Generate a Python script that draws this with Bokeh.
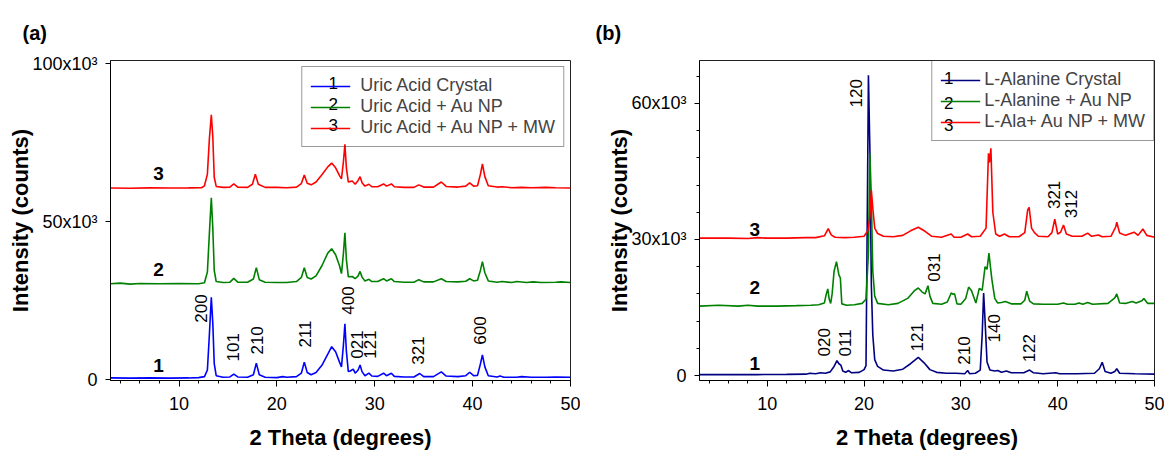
import numpy as np
from bokeh.plotting import figure
from bokeh.layouts import row
from bokeh.models import (Range1d, FixedTicker, SingleIntervalTicker, Legend,
                          LegendItem, ColumnDataSource)
from bokeh.embed import file_html
from bokeh.resources import INLINE
from bokeh.core.properties import value

FONT = "Liberation Sans"

# ---------------- Panel (a): Uric acid ----------------
a1_x = [3.0, 5.0, 7.0, 9.0, 11.0, 12.0, 12.6, 12.9, 13.1, 13.3, 13.45, 13.6, 13.8, 14.5, 15.2, 15.6, 16.0,
        17.0, 17.6, 17.9, 18.2, 18.8, 20.0, 20.6, 21.0, 22.0, 22.5, 22.8, 23.1, 23.5, 24.0, 24.6, 25.2,
        25.6, 26.0, 26.4, 26.6, 26.8, 26.95, 27.1, 27.3, 27.5, 27.8, 28.0, 28.3, 28.5, 28.7, 29.0, 29.4,
        29.7, 30.3, 30.9, 31.2, 31.7, 32.0, 33.0, 34.0, 34.6, 35.0, 36.0, 36.8, 37.3, 38.5, 39.3, 39.7,
        40.1, 40.5, 40.8, 41.0, 41.25, 41.6, 42.5, 42.8, 43.2, 44.5, 45.0, 46.0, 47.5, 48.5, 50.0]
a1_y = [500, 450, 500, 450, 500, 600, 900, 3000, 14000, 26000, 18000, 5000, 1200, 700, 800, 1700, 800,
        700, 1500, 5200, 1500, 700, 600, 900, 700, 900, 2000, 5500, 2200, 1500, 2200, 4500, 8000,
        10400, 8800, 5500, 4000, 11000, 17600, 9000, 2500, 2700, 3300, 2000, 3000, 4600, 2500, 1200, 2000,
        1100, 1000, 2000, 1200, 2000, 1000, 800, 800, 1900, 900, 900, 2400, 1100, 900, 1200, 2300,
        1200, 1300, 5000, 7800, 4000, 1200, 800, 1100, 700, 700, 900, 700, 700, 800, 700]

a2_x = [3.0, 4.0, 5.0, 6.0, 8.0, 10.0, 12.0, 12.6, 12.9, 13.1, 13.3, 13.45, 13.6, 13.8, 14.5, 15.2, 15.6,
        16.0, 17.0, 17.6, 17.9, 18.2, 18.8, 20.0, 21.0, 22.0, 22.5, 22.8, 23.1, 23.5, 24.0, 24.6, 25.2,
        25.6, 26.0, 26.4, 26.6, 26.8, 26.95, 27.1, 27.3, 27.7, 28.0, 28.3, 28.5, 28.7, 29.0, 29.4, 29.7,
        30.3, 30.9, 31.2, 31.7, 32.0, 33.0, 34.0, 34.5, 35.0, 36.0, 36.8, 37.3, 38.5, 39.3, 39.7, 40.1,
        40.5, 40.8, 41.0, 41.25, 41.6, 42.5, 43.0, 44.0, 44.5, 45.5, 46.2, 47.0, 48.5, 49.0, 50.0]
a2_y = [300, 500, 200, 400, 300, 400, 300, 600, 4000, 16000, 27500, 18000, 4500, 1000, 700, 800, 2000,
        800, 800, 1800, 5400, 1600, 800, 700, 700, 1000, 2300, 5400, 2300, 1800, 2800, 6000, 10000,
        11400, 9500, 6000, 3500, 10000, 16400, 8000, 2500, 2600, 1900, 2800, 4200, 2400, 1200, 1700, 1000,
        1000, 1900, 1200, 1900, 1000, 800, 800, 1600, 900, 900, 1900, 1000, 900, 1100, 1900, 1200,
        1400, 4600, 7300, 3800, 1200, 800, 1000, 700, 1000, 700, 900, 700, 800, 900, 700]

a3_x = [3.0, 5.0, 7.0, 9.0, 11.0, 12.3, 12.6, 12.9, 13.1, 13.3, 13.45, 13.6, 13.8, 14.5, 15.2, 15.6, 16.0,
        17.0, 17.5, 17.8, 18.1, 18.8, 20.0, 21.0, 22.0, 22.5, 22.8, 23.1, 23.5, 24.0, 24.6, 25.2, 25.6,
        26.0, 26.4, 26.6, 26.8, 26.95, 27.1, 27.3, 27.7, 28.0, 28.3, 28.5, 28.7, 29.0, 29.4, 29.7, 30.3,
        30.9, 31.2, 31.7, 32.0, 33.0, 34.0, 34.5, 35.0, 36.0, 36.8, 37.3, 38.5, 39.3, 39.7, 40.1, 40.5,
        40.8, 41.0, 41.25, 41.6, 42.5, 43.0, 44.0, 45.0, 46.0, 47.5, 48.5, 50.0]
a3_y = [600, 550, 650, 600, 650, 700, 1300, 5000, 16000, 23800, 17000, 4000, 1100, 800, 900, 1900, 900,
        800, 1800, 5000, 1800, 800, 800, 700, 900, 2000, 4700, 2100, 1600, 2500, 4800, 7300, 8500,
        7000, 4500, 3500, 9000, 14400, 7000, 2500, 2800, 1800, 3000, 4200, 2300, 1200, 1800, 1000, 1000,
        1900, 1200, 1900, 1000, 800, 800, 1600, 900, 900, 2500, 1100, 900, 1200, 2200, 1200, 1300,
        5000, 8200, 4200, 1300, 900, 1000, 700, 800, 700, 800, 700, 600]

a_names = ["Uric Acid Crystal", "Uric Acid + Au NP", "Uric Acid + Au NP + MW"]
a_offsets = [0, 30000, 60000]
a_peak_labels = ["200", "101", "210", "211", "400", "021", "121", "321", "600"]
a_peak_x = [12.2, 15.5, 18.0, 22.9, 27.3, 28.2, 29.5, 34.4, 40.8]
a_peak_y = [18000, 5700, 7900, 10100, 20500, 6600, 6600, 4700, 11000]
a_curve_lbl_x = [7.9, 7.9, 7.9]
a_curve_lbl_y = [4400, 34700, 65300]

# ---------------- Panel (b): L-Alanine ----------------
b1_x = [3.0, 6.0, 9.0, 12.0, 14.0, 14.4, 15.0, 15.5, 16.0, 16.5, 16.9, 17.2, 17.4, 17.6, 17.8, 18.1, 18.4,
        18.7, 19.5, 20.0, 20.2, 20.35, 20.45, 20.6, 20.75, 20.9, 21.1, 21.4, 22.0, 23.0, 24.0, 24.8, 25.6,
        26.2, 26.8, 27.5, 28.5, 29.5, 30.4, 30.7, 30.9, 31.5, 32.0, 32.2, 32.35, 32.5, 32.7, 33.0, 33.5,
        33.8, 34.2, 34.7, 35.2, 36.5, 37.1, 37.5, 38.5, 39.8, 40.2, 42.0, 43.8, 44.3, 44.6, 44.9, 45.5,
        45.9, 46.1, 46.4, 48.0, 50.0]
b1_y = [200, 200, 200, 250, 300, 500, 400, 600, 500, 800, 2000, 3300, 2600, 2300, 1000, 700, 1100,
        600, 700, 1300, 2200, 40000, 66200, 50000, 20000, 9000, 3500, 2000, 1200, 1000, 1400, 2600, 4000,
        2800, 1300, 700, 500, 500, 400, 1100, 400, 500, 1200, 9000, 18200, 12000, 3000, 1200, 1000,
        1100, 700, 1000, 600, 600, 1200, 600, 400, 600, 400, 400, 500, 1500, 2900, 900, 500,
        900, 1500, 500, 400, 300]

b2_x = [3.0, 5.0, 7.0, 8.0, 9.0, 11.0, 13.0, 14.5, 15.3, 15.9, 16.1, 16.25, 16.4, 16.55, 16.7, 16.9, 17.15,
        17.4, 17.55, 17.7, 18.2, 19.0, 19.8, 20.2, 20.45, 20.6, 20.75, 20.9, 21.1, 21.4, 22.5, 23.5, 24.5,
        25.2, 25.6, 26.0, 26.3, 26.6, 26.8, 27.1, 28.0, 28.6, 29.0, 29.2, 29.35, 29.6, 30.0, 30.5, 30.8,
        31.1, 31.3, 31.55, 31.9, 32.2, 32.5, 32.7, 32.9, 33.05, 33.2, 33.5, 33.8, 34.2, 34.6, 35.2, 36.2,
        36.6, 36.8, 37.1, 37.5, 38.5, 40.0, 40.6, 41.0, 41.8, 42.2, 42.6, 43.1, 43.6, 45.2, 45.9, 46.1,
        46.4, 47.0, 47.7, 48.1, 48.7, 48.9, 49.3, 50.0]
b2_y = [300, 500, 300, 500, 300, 300, 400, 500, 600, 1000, 3000, 4100, 1800, 900, 3000, 8000, 10100,
        7200, 6500, 800, 500, 600, 900, 1800, 12000, 34000, 24000, 8000, 2500, 900, 600, 900, 2000,
        3700, 4300, 3400, 3000, 4800, 2500, 900, 700, 1200, 3200, 2900, 3000, 800, 700, 2000, 4500,
        3700, 2500, 1000, 4200, 3800, 9000, 8400, 12000, 9000, 6200, 2000, 1000, 1100, 1300, 800, 800,
        1600, 3600, 1400, 800, 700, 700, 1000, 700, 700, 1000, 700, 1100, 700, 900, 2100, 3000,
        1000, 900, 1300, 1000, 1500, 2000, 900, 900]

b3_x = [3.0, 6.0, 8.0, 9.0, 10.0, 12.0, 14.0, 15.0, 15.9, 16.3, 16.6, 17.0, 18.0, 19.0, 20.0, 20.4, 20.6,
        20.75, 20.9, 21.1, 21.4, 22.0, 23.0, 24.0, 24.8, 25.6, 26.3, 27.0, 28.0, 29.0, 29.3, 30.0, 30.7,
        31.1, 32.0, 32.6, 32.85, 32.95, 33.1, 33.3, 33.6, 34.0, 34.5, 35.0, 36.0, 36.6, 36.9, 37.05, 37.3,
        37.6, 38.0, 39.0, 39.4, 39.7, 40.0, 40.3, 40.6, 40.9, 41.5, 42.5, 43.1, 43.5, 44.2, 44.6, 45.5,
        46.0, 46.1, 46.4, 47.0, 47.9, 48.3, 48.8, 49.2, 50.0]
b3_y = [300, 300, 200, 400, 300, 300, 400, 400, 800, 2400, 1000, 500, 400, 500, 700, 2000, 5000,
        10900, 7000, 2500, 1300, 700, 600, 900, 1900, 2700, 1800, 700, 500, 1200, 500, 500, 1200,
        600, 700, 2500, 19000, 17000, 20100, 6000, 1200, 700, 1200, 600, 600, 1500, 6500, 7100, 2500,
        1500, 700, 600, 1500, 4500, 1200, 1600, 3200, 1200, 700, 700, 1400, 700, 1000, 600, 700,
        2800, 3800, 1400, 900, 1600, 900, 2300, 900, 500]

b_names = ["L-Alanine Crystal", "L-Alanine + Au NP", "L-Ala+ Au NP + MW"]
b_offsets = [0, 15000, 30000]
b_peak_labels = ["120", "020", "011", "121", "031", "210", "140", "122", "321", "312"]
b_peak_x = [19.2, 15.9, 18.0, 25.5, 27.2, 30.3, 33.4, 37.0, 39.6, 41.4]
b_peak_y = [59100, 4200, 4200, 5300, 20700, 2400, 7300, 2900, 36700, 34700]
b_curve_lbl_x = [8.7, 8.7, 8.7]
b_curve_lbl_y = [2600, 19300, 32300]

curve_numbers = ["1", "2", "3"]


def make_panel(width, borders, y_end, yticks, yminor, ylabels, curves, colors, names, offsets,
               peak_lbls, peak_x, peak_y, cl_x, cl_y, tag, tag_offset, leg_opts, leg_num_xy):
    left, right, top, bottom = borders
    p = figure(width=width, height=452, output_backend="svg", toolbar_location=None,
               x_range=Range1d(3, 50), y_range=Range1d(y_end[0], y_end[1]),
               min_border_left=left, min_border_right=right, min_border_top=top,
               min_border_bottom=bottom)
    p.grid.visible = False
    p.outline_line_color = "#222222"
    p.outline_line_width = 1
    p.background_fill_color = "white"
    p.border_fill_color = "white"

    # panel tag as title
    p.title.text = tag
    p.title.align = "left"
    p.title.offset = tag_offset
    p.title.standoff = 33
    p.title.text_font = FONT
    p.title.text_font_size = "20px"
    p.title.text_font_style = "bold"
    p.title.text_color = "black"

    # numbers that sit on the legend's line samples (legend box is see-through)
    lsrc = ColumnDataSource(dict(x=[q[0] for q in leg_num_xy], y=[q[1] for q in leg_num_xy],
                                 t=curve_numbers))
    p.text("x", "y", text="t", source=lsrc, text_align="center", text_baseline="middle",
           text_font=value(FONT), text_font_size="17px", text_color="black")

    renderers = []
    for (xs, ys), c, off in zip(curves, colors, offsets):
        src = ColumnDataSource(dict(x=xs, y=[v + off for v in ys]))
        r = p.line("x", "y", source=src, line_color=c, line_width=1.6)
        renderers.append(r)

    # axes
    p.xaxis.ticker = SingleIntervalTicker(interval=10, num_minor_ticks=5)
    p.yaxis.ticker = FixedTicker(ticks=yticks, minor_ticks=yminor)
    p.yaxis.major_label_overrides = ylabels
    for ax in (p.xaxis[0], p.yaxis[0]):
        ax.axis_line_color = "black"
        ax.major_tick_line_color = "black"
        ax.minor_tick_line_color = "black"
        ax.major_tick_in = 0
        ax.minor_tick_in = 0
        ax.major_tick_out = 6
        ax.minor_tick_out = 3
        ax.major_label_text_font = FONT
        ax.major_label_text_font_size = "18px"
        ax.major_label_text_color = "black"
        ax.axis_label_text_font = FONT
        ax.axis_label_text_font_size = "22px"
        ax.axis_label_text_font_style = "bold"
        ax.axis_label_text_color = "black"
    p.yaxis.major_tick_out = 5
    p.yaxis.major_label_standoff = 8
    p.xaxis.major_label_standoff = 10
    p.xaxis.axis_label = "2 Theta (degrees)"
    p.yaxis.axis_label = "Intensity (counts)"
    p.yaxis.axis_label_standoff = -4
    p.xaxis.axis_label_standoff = 12

    # peak indices
    psrc = ColumnDataSource(dict(x=peak_x, y=peak_y, t=peak_lbls))
    p.text("x", "y", text="t", source=psrc, angle=np.pi / 2, text_align="left",
           text_baseline="middle", text_font=value(FONT), text_font_size="17px",
           text_color="black")
    # curve numbers
    csrc = ColumnDataSource(dict(x=cl_x, y=cl_y, t=curve_numbers))
    p.text("x", "y", text="t", source=csrc, text_align="center", text_baseline="middle",
           text_font=value(FONT), text_font_size="19px", text_font_style="bold",
           text_color="black")

    legend = Legend(items=[LegendItem(label=n, renderers=[r]) for n, r in zip(names, renderers)],
                    location="top_right", orientation="vertical",
                    label_text_font=FONT, label_text_font_size="18px",
                    glyph_width=40, glyph_height=20, label_height=20, spacing=0,
                    border_line_color="#333333", border_line_width=1.5,
                    background_fill_alpha=0.0,
                    **leg_opts)
    p.add_layout(legend)
    return p


# both frames share top 60 / bottom 381 (row aligns them)
pa = make_panel(580, (110, 10, 60, 71), (-315, 100960), [0, 50000, 100000], [],
                {0: "0", 50000: "50x10³", 100000: "100x10³"},
                [(a1_x, a1_y), (a2_x, a2_y), (a3_x, a3_y)],
                ["#0000FF", "#008000", "#FF0000"], a_names, a_offsets,
                a_peak_labels, a_peak_x, a_peak_y, a_curve_lbl_x, a_curve_lbl_y,
                "(a)", -88,
                dict(padding=8, margin=6, label_standoff=10),
                [(25.75, 93700), (25.75, 87100), (25.75, 80400)])

pb = make_panel(584, (119, 10, 60, 71), (-1099, 69457), [0, 30000, 60000],
                [6000, 12000, 18000, 24000, 36000, 42000, 48000, 54000, 66000],
                {0: "0", 30000: "30x10³", 60000: "60x10³"},
                [(b1_x, b1_y), (b2_x, b2_y), (b3_x, b3_y)],
                ["#000080", "#008000", "#FF0000"], b_names, b_offsets,
                b_peak_labels, b_peak_x, b_peak_y, b_curve_lbl_x, b_curve_lbl_y,
                "(b)", -104,
                dict(padding=8, margin=0, label_standoff=4),
                [(28.75, 65500), (28.75, 60000), (28.75, 55200)])

layout = row(pa, pb)
open("out.html", "w").write(file_html(layout, INLINE))
